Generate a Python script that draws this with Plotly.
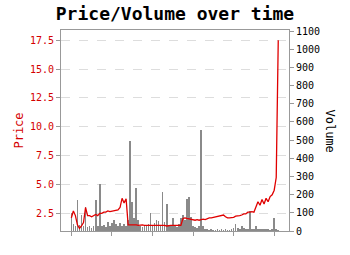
import plotly.graph_objects as go

# time index (days)
day = [i * 5 for i in range(103)]

price = [
    2.1, 2.7, 2.3, 1.5, 1.2, 1.4, 1.7, 3.0, 2.3, 2.3,
    2.2, 2.3, 2.4, 2.3, 2.5, 2.5, 2.6, 2.6, 2.7, 2.65,
    2.7, 2.75, 2.8, 2.8, 3.0, 3.8, 3.4, 3.75, 1.5, 1.5,
    1.55, 1.5, 1.5, 1.45, 1.5, 1.5, 1.45, 1.45, 1.5, 1.45,
    1.45, 1.45, 1.45, 1.45, 1.45, 1.45, 1.45, 1.4, 1.45, 1.45,
    1.45, 1.45, 1.45, 1.45, 1.45, 2.05, 2.1, 2.05, 2.0, 1.95,
    1.95, 1.9, 1.95, 1.9, 1.95, 2.0, 1.95, 2.05, 2.1, 2.1,
    2.15, 2.2, 2.25, 2.3, 2.3, 2.35, 2.2, 2.1, 2.1, 2.1,
    2.15, 2.25, 2.25, 2.3, 2.35, 2.45, 2.45, 2.6, 2.6, 2.65,
    2.6, 3.0, 3.5, 3.2, 3.7, 3.3, 3.8, 3.5, 3.95, 4.1,
    4.5, 5.6, 17.5,
]

volume = [
    100, 40, 30, 170, 35, 88, 25, 133, 20, 30,
    15, 25, 170, 30, 258, 25, 35, 20, 50, 30,
    45, 60, 40, 30, 45, 30, 40, 25, 60, 493,
    160, 70, 235, 60, 30, 20, 35, 25, 40, 100,
    30, 45, 60, 55, 30, 217, 50, 148, 35, 25,
    70, 30, 20, 40, 72, 90, 60, 177, 186, 77,
    30, 20, 15, 30, 557, 25, 10, 8, 5, 6,
    5, 4, 6, 5, 7, 5, 6, 5, 4, 10,
    15, 40, 15, 10, 28, 15, 10, 8, 110, 10,
    8, 30, 10, 8, 12, 8, 10, 6, 5, 8,
    70, 10, 5,
]

price_ticks = [2.5, 5.0, 7.5, 10.0, 12.5, 15.0, 17.5]
volume_ticks = list(range(0, 1101, 100))
x_ticks = [0, 100, 200, 300, 400, 500]

FONT = "DejaVu Sans Mono"
RED = "#d40000"
AXIS = "#999999"

fig = go.Figure()
fig.add_trace(go.Bar(
    x=day, y=volume, yaxis="y", width=1.7,
    marker=dict(color="#8a8a8a", line=dict(width=0)),
    name="Volume", showlegend=False,
))
fig.add_trace(go.Scatter(
    x=day, y=price, yaxis="y2", mode="lines",
    line=dict(color="#e00000", width=1.3),
    name="Price", showlegend=False,
))

fig.update_layout(
    width=350, height=255,
    margin=dict(l=61, r=61, t=30, b=24),
    paper_bgcolor="white", plot_bgcolor="white",
    font=dict(family=FONT, size=10, color="black"),
    title=dict(text="Price/Volume over time", x=0.5, xanchor="center",
               y=0.945, yanchor="middle",
               font=dict(family=FONT, size=18, color="black", weight="bold")),
    bargap=0,
    xaxis=dict(range=[-25.5, 536.5], tickvals=x_ticks, showticklabels=False,
               ticks="outside", ticklen=4, tickcolor=AXIS,
               showgrid=False, zeroline=False,
               showline=True, linecolor=AXIS, linewidth=1, mirror=True),
    yaxis=dict(side="right", range=[0, 1106], tickvals=volume_ticks,
               ticks="outside", ticklen=4, tickcolor=AXIS,
               tickfont=dict(family=FONT, size=10, color="black"),
               showgrid=False, zeroline=False,
               showline=True, linecolor=AXIS, linewidth=1),
    yaxis2=dict(side="left", overlaying="y", range=[0.965, 18.39],
                tickvals=price_ticks, tickformat=".1f",
                ticks="outside", ticklen=4, tickcolor=AXIS,
                tickfont=dict(family=FONT, size=10, color=RED),
                title=dict(text="Price", font=dict(family=FONT, size=12, color=RED),
                           standoff=3),
                showgrid=True, gridcolor="#dddddd", griddash="dash", gridwidth=1,
                zeroline=False,
                showline=True, linecolor=AXIS, linewidth=1),
    annotations=[dict(text="Volume", textangle=90, xref="paper", yref="paper",
                      x=1.18, y=0.5, xanchor="center", yanchor="middle",
                      showarrow=False,
                      font=dict(family=FONT, size=12, color="black"))],
)

fig.write_html("out.html")
